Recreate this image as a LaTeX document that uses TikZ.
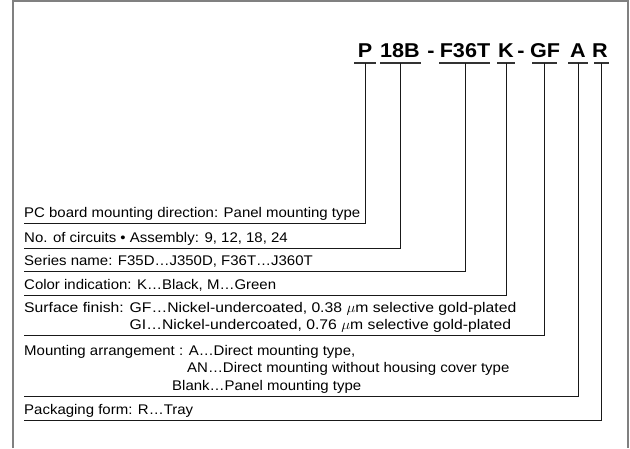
\documentclass[tikz,border=0pt]{standalone}
\usepackage{fontspec}
\setmainfont[FakeStretch=1.07]{Liberation Sans}
\newfontfamily\codefont[FakeStretch=1.08]{Liberation Sans}
\begin{document}
\begin{tikzpicture}[x=1pt,y=-1pt,
  lbl/.style={anchor=base west, inner sep=0pt, font=\fontsize{14}{17}\selectfont},
  wide/.style={xscale=1.05, transform shape},
  code/.style={anchor=base, inner sep=0pt, font=\codefont\fontsize{20}{21}\selectfont\bfseries},
  rowline/.style={line width=1pt, black!90},
  uline/.style={line width=1.1pt, black!80},
  frame/.style={line width=2pt, black!50}]
\useasboundingbox (0,0) rectangle (630,448);
% frame
\draw[frame] (13,448) -- (13,0.5) -- (628,0.5) -- (628,448);
% code
\node[code] (cP) at (365,57) {P};
\node[code] (c18B) at (400,57) {18B};
\node[code] (d1) at (431,57) {-};
\node[code] (cF) at (465,57) {F36T};
\node[code] (cK) at (506,57) {K};
\node[code] (d2) at (521,57) {-};
\node[code] (cGF) at (545,57) {GF};
\node[code] (cA) at (578,57) {A};
\node[code] (cR) at (600,57) {R};
% underlines
\draw[uline] (354,63) -- (376,63);
\draw[uline] (380,63) -- (421,63);
\draw[uline] (439,63) -- (490,63);
\draw[uline] (497,63) -- (515,63);
\draw[uline] (532,63) -- (557,63);
\draw[uline] (568,63) -- (588,63);
\draw[uline] (594,63) -- (609,63);
\coordinate (u1) at (365,63);
\coordinate (u2) at (400,63);
\coordinate (u3) at (465,63);
\coordinate (u4) at (506,63);
\coordinate (u5) at (544,63);
\coordinate (u6) at (578,63);
\coordinate (u7) at (601,63);
% rows
\coordinate (s1) at (24,223);
\coordinate (s2) at (24,248);
\coordinate (s3) at (24,271);
\coordinate (s4) at (24,295);
\coordinate (s5) at (24,335);
\coordinate (s6) at (24,396);
\coordinate (s7) at (24,420);
\draw[rowline] (s1) -| (u1);
\draw[rowline] (s2) -| (u2);
\draw[rowline] (s3) -| (u3);
\draw[rowline] (s4) -| (u4);
\draw[rowline] (s5) -| (u5);
\draw[rowline] (s6) -| (u6);
\draw[rowline] (s7) -| (u7);
% texts
\node[lbl] (r1) at (24,217) {PC board mounting direction: Panel mounting type};
\node[lbl] (r2) at (24,242) {No. of circuits \textbullet\ Assembly: 9, 12, 18, 24};
\node[lbl] (r3) at (24,265) {Series name: F35D…J350D, F36T…J360T};
\node[lbl] (r4) at (24,289) {Color indication: K…Black, M…Green};
\node[lbl,wide] (r5a) at (24,312) {Surface finish: GF…Nickel-undercoated, 0.38 $\mu$m selective gold-plated};
\node[lbl,wide] (r5b) at (24,329) {\hphantom{Surface finish: }GI…Nickel-undercoated, 0.76 $\mu$m selective gold-plated};
\node[lbl] (r6a) at (24,355) {Mounting arrangement : A…Direct mounting type,};
\node[lbl] (r6b) at (187,372.5) {AN…Direct mounting without housing cover type};
\node[lbl] (r6c) at (172,390) {Blank…Panel mounting type};
\node[lbl] (r7) at (24,414) {Packaging form: R…Tray};
\end{tikzpicture}
\end{document}
